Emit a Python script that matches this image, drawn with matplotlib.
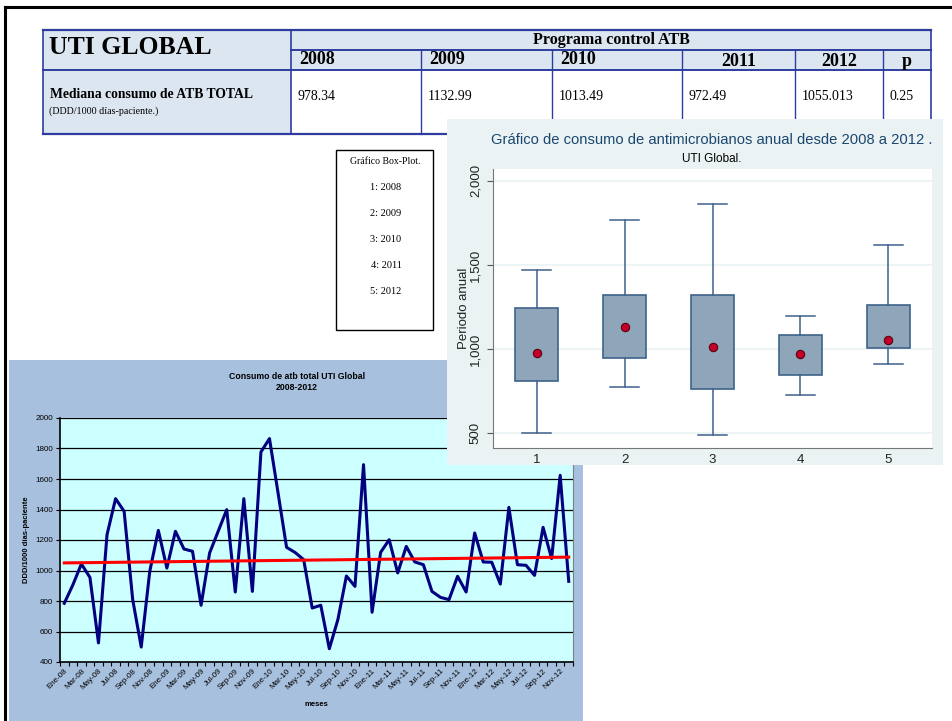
import numpy as np
import matplotlib
matplotlib.use("Agg")
import matplotlib.pyplot as plt
from matplotlib.patches import Rectangle
from matplotlib.ticker import FuncFormatter

W, H = 953, 721

# tabla resumen
years = ["2008", "2009", "2010", "2011", "2012"]
medianas = [978.34, 1132.99, 1013.49, 972.49, 1055.013]
medianas_txt = ["978.34", "1132.99", "1013.49", "972.49", "1055.013"]
p_valor = "0.25"

# consumo mensual (DDD/1000 dias-paciente), Ene-08 .. Dic-12
meses_abr = ["Ene", "Feb", "Mar", "Abr", "May", "Jun", "Jul", "Ago", "Sep", "Oct", "Nov", "Dic"]
consumo = [785, 905, 1043, 955, 525, 1235, 1471, 1388, 810, 498, 995, 1263,
           1016, 1257, 1141, 1126, 772, 1115, 1257, 1399, 859, 1471, 863, 1777,
           1865, 1510, 1152, 1118, 1071, 754, 772, 487, 678, 964, 896, 1694,
           726, 1119, 1202, 984, 1158, 1056, 1038, 863, 824, 809, 962, 859,
           1246, 1056, 1054, 911, 1414, 1038, 1034, 968, 1283, 1078, 1624, 929]

# box plot anual
box_q1 = [808, 945, 762, 844, 1007]
box_q3 = [1245, 1324, 1320, 1082, 1259]
box_lo = [500, 772, 488, 724, 913]
box_hi = [1468, 1770, 1863, 1199, 1617]


def rect(x0, y0, x1, y1):
    return [x0 / W, 1 - y1 / H, (x1 - x0) / W, (y1 - y0) / H]


fig = plt.figure(figsize=(W / 100, H / 100), dpi=100)
fig.patch.set_facecolor("white")

# ---------- pagina / tabla ----------
pg = fig.add_axes([0, 0, 1, 1])
pg.set_xlim(0, W)
pg.set_ylim(H, 0)
pg.axis("off")

pg.plot([5, W], [7, 7], color="black", lw=2.2)
pg.plot([5, 5], [7, H], color="black", lw=2.2)

serif = "Liberation Serif"
blue = "#2E3C9E"
head = "#DCE6F1"
cols = [291, 421, 552, 682, 795, 883, 931]
tl, tt, r1, r2, tb = 43, 30, 50, 70, 134

pg.add_patch(Rectangle((tl, tt), cols[-1] - tl, r2 - tt, facecolor=head, edgecolor="none"))
pg.add_patch(Rectangle((tl, r2), cols[0] - tl, tb - r2, facecolor=head, edgecolor="none"))
pg.plot([tl, cols[-1]], [tt, tt], color=blue, lw=1.6)
pg.plot([cols[0], cols[-1]], [r1, r1], color=blue, lw=1.4)
pg.plot([tl, cols[-1]], [r2, r2], color=blue, lw=1.4)
pg.plot([tl, cols[-1]], [tb, tb], color=blue, lw=1.6)
pg.plot([tl, tl], [tt, tb], color=blue, lw=1.2)
pg.plot([cols[0], cols[0]], [tt, tb], color=blue, lw=1.2)
pg.plot([cols[-1], cols[-1]], [tt, tb], color=blue, lw=1.2)
for c in cols[1:-1]:
    pg.plot([c, c], [r1, tb], color=blue, lw=1.0)

pg.text(49, 48, "UTI GLOBAL", family=serif, weight="bold", fontsize=18.5, va="center", ha="left")
pg.text((cols[0] + cols[-1]) / 2, 40, "Programa control ATB", family=serif, weight="bold",
        fontsize=11.5, va="center", ha="center")
heads = years + ["p"]
for i, t in enumerate(heads):
    if i < 3:
        pg.text(cols[i] + 8, 60, t, family=serif, weight="bold", fontsize=13, va="center", ha="left")
    else:
        pg.text((cols[i] + cols[i + 1]) / 2, 61, t, family=serif, weight="bold", fontsize=13,
                va="center", ha="center")
vals = medianas_txt + [p_valor]
for i, t in enumerate(vals):
    pg.text(cols[i] + 7, 96, t, family=serif, fontsize=10, va="center", ha="left")
pg.text(50, 95, "Mediana consumo de ATB TOTAL", family=serif, weight="bold", fontsize=9.8,
        va="center", ha="left")
pg.text(49, 111, "(DDD/1000 días-paciente.)", family=serif, fontsize=7.2, va="center", ha="left")

# leyenda del box plot
pg.add_patch(Rectangle((336, 150), 97, 180, facecolor="white", edgecolor="black", lw=1.0))
pg.text(385, 161, "Gráfico Box-Plot.", family=serif, fontsize=7, ha="center", va="center")
for i, y in enumerate(years):
    pg.text(386, 188 + i * 26, f"{i + 1}: {y}", family=serif, fontsize=7.5, ha="center", va="center")

# ---------- grafico de lineas ----------
sans = "Liberation Sans"
lp = fig.add_axes(rect(9, 360, 583, 721))
lp.set_facecolor("#A7C0DE")
lp.set_xlim(0, 574)
lp.set_ylim(361, 0)
lp.set_xticks([])
lp.set_yticks([])
for s in lp.spines.values():
    s.set_visible(False)
lp.text(288, 22, "Consumo de atb total UTI Global\n2008-2012", family=sans, weight="bold",
        fontsize=6.3, ha="center", va="center", linespacing=1.35)

ax = fig.add_axes(rect(60, 418, 573, 662))
ax.set_facecolor("#CCFFFF")
n = len(consumo)
x = np.arange(n) + 0.5
ax.plot(x, consumo, color="#000080", lw=2.2, zorder=3)
a, b = np.polyfit(x, consumo, 1)
ax.plot([x[0], x[-1]], [a * x[0] + b, a * x[-1] + b], color="#FF0000", lw=2.2, zorder=4)
ax.set_xlim(0, n)
ax.set_ylim(400, 2000)
ax.set_yticks(range(400, 2001, 200))
ax.yaxis.grid(True, color="black", lw=0.9)
ax.set_axisbelow(True)
ax.set_xticks(range(0, n + 1))
ax.set_xticklabels([])
lab = [f"{meses_abr[i % 12]}-{8 + i // 12:02d}" for i in range(0, n, 2)]
ax.set_xticks(x[::2], minor=True)
ax.set_xticklabels(lab, minor=True, rotation=45, ha="right", rotation_mode="anchor",
                   fontsize=5.8, family=sans)
ax.tick_params(axis="x", which="minor", length=0, pad=4)
ax.tick_params(axis="x", which="major", length=3, width=0.8)
ax.tick_params(axis="y", length=3, width=0.8, labelsize=5.8, pad=2)
for t in ax.get_yticklabels():
    t.set_family(sans)
ax.spines["top"].set_visible(False)
ax.spines["right"].set_color("#808080")
ax.spines["left"].set_linewidth(1.2)
ax.spines["bottom"].set_linewidth(1.2)
ax.set_ylabel("DDD/1000 días-paciente", family=sans, weight="bold", fontsize=5.5, labelpad=4)
ax.set_xlabel("meses", family=sans, weight="bold", fontsize=5.5, labelpad=7)

# ---------- box plot ----------
bp = fig.add_axes(rect(447, 119, 943, 465))
bp.set_facecolor("#EAF2F3")
bp.set_xlim(447, 943)
bp.set_ylim(465, 119)
bp.set_xticks([])
bp.set_yticks([])
for s in bp.spines.values():
    s.set_visible(False)
bp.text(712, 140, "Gráfico de consumo de antimicrobianos anual desde 2008 a 2012 .",
        ha="center", va="center", family=sans, fontsize=10.6, color="#1A476F")
bp.text(712, 159, "UTI Global.", ha="center", va="center", family=sans,
        fontsize=8.5, color="black")

bx = fig.add_axes(rect(493, 169, 932, 448))
bx.set_facecolor("white")
stats = []
for i in range(5):
    stats.append(dict(med=medianas[i], q1=box_q1[i], q3=box_q3[i],
                      whislo=box_lo[i], whishi=box_hi[i], fliers=[]))
edge = "#3E6289"
bx.bxp(stats, positions=range(1, 6), widths=0.49, patch_artist=True, showfliers=False,
       boxprops=dict(facecolor="#8FA5BA", edgecolor=edge, lw=1.2),
       whiskerprops=dict(color=edge, lw=1.1), capprops=dict(color=edge, lw=1.1),
       capwidths=0.33, medianprops=dict(visible=False))
bx.plot(range(1, 6), medianas, "o", ms=6, mfc="#C4002A", mec="#5A0010", mew=0.8, zorder=5,
        linestyle="none")
bx.set_xlim(0.5, 5.5)
bx.set_ylim(411, 2071)
bx.set_yticks([500, 1000, 1500, 2000])
bx.yaxis.set_major_formatter(FuncFormatter(lambda v, p: f"{v:,.0f}"))
bx.yaxis.grid(True, color="#EAF2F3", lw=1.2)
bx.set_axisbelow(True)
bx.set_xticks(range(1, 6))
bx.set_xticklabels([str(i) for i in range(1, 6)])
bx.tick_params(axis="x", length=0, labelsize=9.5, pad=4, colors="#222222")
bx.tick_params(axis="y", length=4, width=0.8, labelsize=9.5, colors="#555555", labelcolor="#222222", pad=4)
for t in bx.get_yticklabels():
    t.set_rotation(90)
    t.set_va("center")
    t.set_family(sans)
for t in bx.get_xticklabels():
    t.set_family(sans)
for s in ["top", "right"]:
    bx.spines[s].set_visible(False)
bx.spines["left"].set_color("#777777")
bx.spines["bottom"].set_color("#777777")
bx.set_ylabel("Periodo anual", family=sans, fontsize=9.5, labelpad=0, color="#222222")

fig.savefig("out.png", dpi=100)
